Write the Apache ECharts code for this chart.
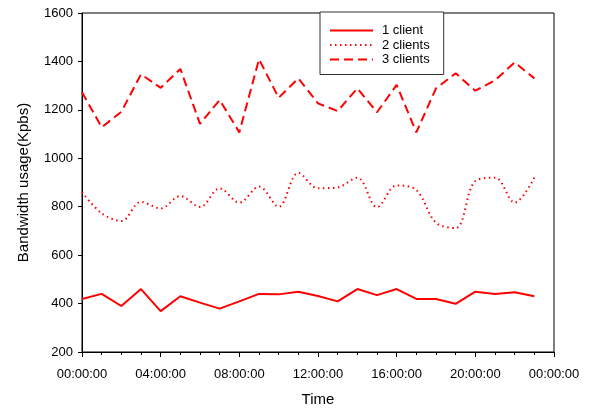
<!DOCTYPE html>
<html>
<head>
<meta charset="utf-8">
<script src="https://cdn.jsdelivr.net/npm/echarts@6/dist/echarts.min.js"></script>
<style>
  html, body { margin: 0; padding: 0; background: #fff; }
  #chart { width: 600px; height: 409px; }
</style>
</head>
<body>
<div id="chart"></div>
<script>
// Hour of day for each sample (0..23)
const hours = [0,1,2,3,4,5,6,7,8,9,10,11,12,13,14,15,16,17,18,19,20,21,22,23];

// Bandwidth usage (Kpbs) per number of clients
const oneClient = [419,440,390,460,369,430,404,379,409,440,438,449,431,409,460,435,460,419,419,399,449,440,447,430];
const twoClients = [860,773,741,820,793,844,799,876,817,883,800,940,876,880,920,798,888,869,734,712,906,920,817,920];
const threeClients = [1273,1128,1192,1347,1291,1369,1142,1241,1107,1409,1250,1330,1227,1195,1289,1190,1303,1107,1289,1351,1279,1322,1396,1330];

const seriesNames = ['1 client', '2 clients', '3 clients'];

// Y axis range and step
const yMin = 200, yMax = 1600, yStep = 200;
// X axis range (hours) and label step
const xMin = 0, xMax = 24, xStep = 4;

function pair(values) {
  return hours.map((h, i) => [h, values[i]]);
}

function timeLabel(v) {
  const h = Math.round(v) % 24;
  return (h < 10 ? '0' : '') + h + ':00:00';
}

const font = 'Liberation Sans, Arial, sans-serif';
const red = '#ff0000';

const chart = echarts.init(document.getElementById('chart'), null, { renderer: 'canvas' });

chart.setOption({
  animation: false,
  backgroundColor: '#ffffff',
  textStyle: { fontFamily: font },
  grid: {
    left: 82, right: 46, top: 13, bottom: 57,
    outerBoundsMode: 'none', containLabel: false,
    show: true, borderColor: '#000', borderWidth: 1, backgroundColor: 'transparent'
  },
  legend: {
    orient: 'vertical',
    left: 320, top: 12,
    padding: [12, 14, 8.5, 9],
    itemWidth: 43, itemHeight: 12, itemGap: 1.5,
    borderColor: '#333', borderWidth: 1,
    backgroundColor: '#fff',
    itemStyle: { opacity: 0 },
    textStyle: { fontFamily: font, fontSize: 13, color: '#000', padding: [0, 0, 0, 4] },
    data: seriesNames
  },
  xAxis: {
    type: 'value',
    min: xMin, max: xMax, interval: xStep,
    name: 'Time', nameLocation: 'middle', nameGap: 40,
    nameTextStyle: { fontFamily: font, fontSize: 15, color: '#000' },
    axisLine: { lineStyle: { color: '#000', width: 1 } },
    axisTick: { show: true, inside: false, length: 5, lineStyle: { color: '#000' } },
    minorTick: { show: true, splitNumber: 4, length: 3, lineStyle: { color: '#000' } },
    axisLabel: { formatter: timeLabel, fontFamily: font, fontSize: 13, color: '#000', margin: 16 },
    splitLine: { show: false }
  },
  yAxis: {
    type: 'value',
    min: yMin, max: yMax, interval: yStep,
    name: 'Bandwidth usage(Kpbs)', nameLocation: 'middle', nameGap: 51,
    nameTextStyle: { fontFamily: font, fontSize: 15, color: '#000' },
    axisLine: { show: true, lineStyle: { color: '#000', width: 1 } },
    axisTick: { show: true, inside: false, length: 4, lineStyle: { color: '#000' } },
    axisLabel: { formatter: v => String(v), fontFamily: font, fontSize: 13, color: '#000', margin: 9 },
    splitLine: { show: false }
  },
  series: [
    {
      name: seriesNames[0], type: 'line', data: pair(oneClient),
      symbol: 'none', color: red,
      lineStyle: { color: red, width: 2, type: 'solid' }
    },
    {
      name: seriesNames[1], type: 'line', data: pair(twoClients),
      symbol: 'none', color: red, smooth: 0.35,
      lineStyle: { color: red, width: 2, type: [1.5, 3.5], cap: 'butt' }
    },
    {
      name: seriesNames[2], type: 'line', data: pair(threeClients),
      symbol: 'none', color: red,
      lineStyle: { color: red, width: 2, type: [9, 5] }
    }
  ]
});
</script>
</body>
</html>
